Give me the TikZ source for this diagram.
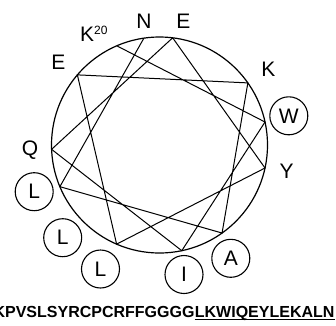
\documentclass[tikz,border=0pt]{standalone}
\usepackage{fontspec}
\setmainfont{Liberation Sans}
\usetikzlibrary{positioning}

\begin{document}
\begin{tikzpicture}[
    x=1pt, y=1pt,
    wheel/.style={line width=1.2pt},
    turn/.style={line width=1pt, line join=miter},
    residue/.style={inner sep=0pt, font=\fontsize{21}{21}\selectfont},
    apolar/.style={
      residue,
      draw,
      circle,
      line width=1.1pt,
      minimum size=38pt,
    },
    sequence/.style={inner sep=0pt, font=\fontsize{16}{16}\selectfont\bfseries},
  ]
  \useasboundingbox (-159.5,-180) rectangle (176.5,145);

  \draw[wheel] (0,0) circle (108pt);

  % residues 20--31 sit on the wheel, 100 degrees apart
  \foreach \res/\ang in {k20/113.3, w21/12.3, i22/-78.1, q23/-177.7,
      e24/83.0, y25/-12.3, l26/-113.4, e27/139.5, k28/35.1,
      a29/-54.6, l30/-157.3, n31/98.3}
    \coordinate (\res) at (\ang:108pt);

  \draw[turn] (k20) -- (w21) -- (i22) -- (q23) -- (e24) -- (y25)
    -- (l26) -- (e27) -- (k28) -- (a29) -- (l30) -- (n31);

  % labels round the wheel
  \node[residue, anchor=base west] (lab-k20) at (-79.5,104)
    {K{\fontsize{12}{12}\selectfont\raisebox{6.4pt}{20}}};
  \node[residue] (lab-n31) at (-15.5,124.2) {N};
  \node[residue] (lab-e24) at (23.8,123.3) {E};
  \node[residue] (lab-e27) at (-101.2,82.5) {E};
  \node[residue] (lab-k28) at (108.8,76) {K};
  \node[apolar] (lab-w21) at (129.3,29.2) {W};
  \node[residue] (lab-y25) at (127.2,-26.5) {Y};
  \node[apolar] (lab-a29) at (71.3,-113.3) {A};
  \node[apolar] (lab-i22) at (24.5,-129.5) {I};
  \node[apolar] (lab-l26) at (-59,-124) {L};
  \node[apolar] (lab-l19) at (-96.8,-92.7) {L};
  \node[apolar] (lab-l30) at (-125.3,-46.7) {L};
  \node[residue] (lab-q23) at (-129.5,-5) {Q};

  % peptide sequence, the helix part underlined
  \node[sequence, anchor=base west] (seq-head) at (-166.1,-172)
    {KPVSLSYRCPCRFFGGGG};
  \node[sequence, anchor=base west] (seq-helix) at (seq-head.base east)
    {LKWIQEYLEKALN};
  \draw[line width=1.1pt] ([yshift=-2.3pt]seq-helix.base west)
    -- ([yshift=-2.3pt]seq-helix.base east);
\end{tikzpicture}
\end{document}
